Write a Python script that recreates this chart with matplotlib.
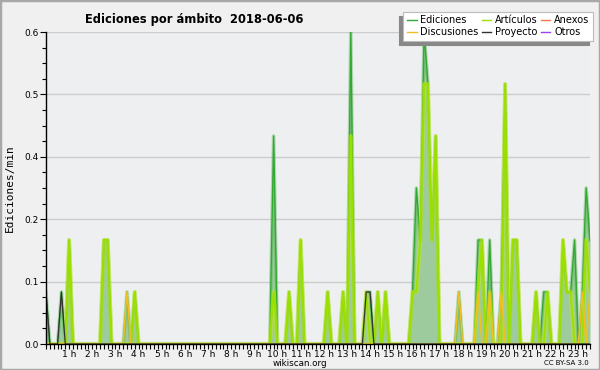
"""Wikiscan-style edits per minute chart, 10-minute bins."""

import numpy as np
import matplotlib

matplotlib.use("Agg")
import matplotlib.pyplot as plt
from matplotlib.patches import Rectangle
from matplotlib.ticker import AutoMinorLocator, FixedLocator, FormatStrFormatter, MultipleLocator

TITLE = "Ediciones por ámbito  2018-06-06"
Y_LABEL = "Ediciones/min"

N_BINS = 142  # 10-minute bins from 00:00 to 23:30
BINS_PER_HOUR = 6

# non-zero bins only (bin index, edits per minute)
ediciones_bins = [0, 4, 6, 15, 16, 21, 23,
                  59, 63, 66, 73, 77, 79, 83, 84, 86, 88,
                  95, 96, 97, 98, 99, 100, 101,
                  107, 112, 113, 115, 118, 119, 121, 122,
                  127, 129, 130, 134, 135, 136, 137, 139, 140, 141]
ediciones_vals = [0.1, 0.1, 0.2, 0.2, 0.2, 0.1, 0.1,
                  0.4, 0.1, 0.2, 0.1, 0.1, 0.6, 0.1, 0.1, 0.1, 0.1,
                  0.1, 0.3, 0.2, 0.6, 0.5, 0.2, 0.4,
                  0.1, 0.2, 0.2, 0.2, 0.1, 0.5, 0.2, 0.2,
                  0.1, 0.1, 0.1, 0.2, 0.1, 0.1, 0.2, 0.1, 0.3, 0.2]

articulos_bins = [6, 15, 16, 23, 59, 63, 66, 73, 77, 79, 83, 86, 88,
                  95, 96, 97, 98, 99, 100, 101,
                  112, 113, 115, 119, 121, 122, 127, 130, 134, 135, 136, 140, 141]
articulos_vals = [0.2, 0.2, 0.2, 0.1, 0.1, 0.1, 0.2, 0.1, 0.1, 0.4, 0.1, 0.1, 0.1,
                  0.1, 0.1, 0.2, 0.5, 0.5, 0.2, 0.4,
                  0.1, 0.2, 0.1, 0.5, 0.2, 0.2, 0.1, 0.1, 0.2, 0.1, 0.1, 0.2, 0.1]

discusiones_bins = [21, 107, 112, 115, 118, 139, 141]
discusiones_vals = [0.1, 0.1, 0.1, 0.1, 0.1, 0.1, 0.1]

proyecto_bins = [0, 4, 83, 84]
proyecto_vals = [0.1, 0.1, 0.1, 0.1]

anexos_bins, anexos_vals = [], []
otros_bins, otros_vals = [], []

hour_ticks = list(range(1, 24))
hour_labels = [f"{h} h" for h in hour_ticks]

Y_MAX = 0.6


def dense(bins, vals):
    out = np.zeros(N_BINS)
    out[bins] = vals
    return out


hours = np.arange(N_BINS) / BINS_PER_HOUR

fig = plt.figure(figsize=(6.0, 3.7), dpi=100)
fig.patch.set_facecolor("#f0f0f0")
fig.patches.append(Rectangle((0, 0), 1, 1, transform=fig.transFigure, fill=False,
                             edgecolor="#a8a8a8", linewidth=2.5, zorder=10))

ax = fig.add_axes([46 / 600, 26 / 370, 544 / 600, 312 / 370])
ax.set_facecolor("#eeeff1")

ed = dense(ediciones_bins, ediciones_vals)
art = dense(articulos_bins, articulos_vals)
ax.fill_between(hours, ed, 0, color="#9ecb9e", linewidth=0, zorder=2)
ax.plot(hours, ed, color="#3aab3a", linewidth=2.6, alpha=0.35, zorder=3)
ax.plot(hours, ed, color="#33a833", linewidth=1.0, zorder=3, label="Ediciones")
ax.plot(hours, art, color="#c8f000", linewidth=3.0, alpha=0.45, zorder=4)
ax.plot(hours, art, color="#9be000", linewidth=1.3, zorder=4, label="Artículos")
ax.plot(hours, dense(discusiones_bins, discusiones_vals), color="#f0c020",
        linewidth=1.2, zorder=5, label="Discusiones")
ax.plot(hours, dense(proyecto_bins, proyecto_vals), color="#333333",
        linewidth=0.9, zorder=6, label="Proyecto")
ax.plot(anexos_bins, anexos_vals, color="#ff7744", linewidth=1.0, label="Anexos")
ax.plot(otros_bins, otros_vals, color="#9944ee", linewidth=1.0, label="Otros")

ax.set_xlim(0, (N_BINS - 1) / BINS_PER_HOUR)
ax.set_ylim(0, Y_MAX)

ax.yaxis.set_major_locator(FixedLocator(np.linspace(0, Y_MAX, 6)))
ax.yaxis.set_major_formatter(FormatStrFormatter("%.1f"))
ax.yaxis.set_minor_locator(AutoMinorLocator(4))
ax.xaxis.set_major_locator(FixedLocator(hour_ticks))
ax.set_xticklabels(hour_labels)
ax.xaxis.set_minor_locator(MultipleLocator(1 / BINS_PER_HOUR))

ax.grid(axis="y", color="#cccccc", linewidth=1.0, zorder=1)
ax.set_axisbelow(True)
for side in ("top", "right"):
    ax.spines[side].set_visible(False)
for side in ("left", "bottom"):
    ax.spines[side].set_color("black")
    ax.spines[side].set_linewidth(1.0)
    ax.spines[side].set_zorder(7)

ax.tick_params(axis="both", which="both", direction="out", colors="black",
               labelsize=6.5, width=0.8)
ax.tick_params(axis="x", which="both", length=3.5, pad=0.5)
ax.tick_params(axis="y", which="major", length=4, pad=1)
ax.tick_params(axis="y", which="minor", length=3)

ax.set_ylabel(Y_LABEL, family="DejaVu Sans Mono", fontsize=8, labelpad=7)

handles, labels = ax.get_legend_handles_labels()
order = ["Ediciones", "Discusiones", "Artículos", "Proyecto", "Anexos", "Otros"]
hmap = dict(zip(labels, handles))
leg = fig.legend([hmap[k] for k in order], order, ncol=3, loc="upper right",
                 bbox_to_anchor=(593 / 600, 1 - 12 / 370), fontsize=7,
                 frameon=True, fancybox=False,
                 shadow={"ox": -3, "oy": -3, "color": "#888888", "alpha": 1},
                 handlelength=1.0, handletextpad=0.4, columnspacing=0.3,
                 labelspacing=0.2, borderpad=0.35, borderaxespad=0)
leg.get_frame().set_facecolor("white")
leg.get_frame().set_edgecolor("#bbbbbb")
leg.get_frame().set_linewidth(0.8)
for line in leg.get_lines():
    line.set_linewidth(1.0)

fig.text(85 / 600, 1 - 19 / 370, TITLE, fontsize=8.3, fontweight="bold",
         ha="left", va="center")
fig.text(0.5, 1 - 363 / 370, "wikiscan.org", fontsize=6.3, ha="center", va="center")
fig.text(589 / 600, 1 - 363 / 370, "CC BY-SA 3.0", fontsize=5, ha="right", va="center")

fig.savefig("out.png", dpi=100, facecolor=fig.get_facecolor())
